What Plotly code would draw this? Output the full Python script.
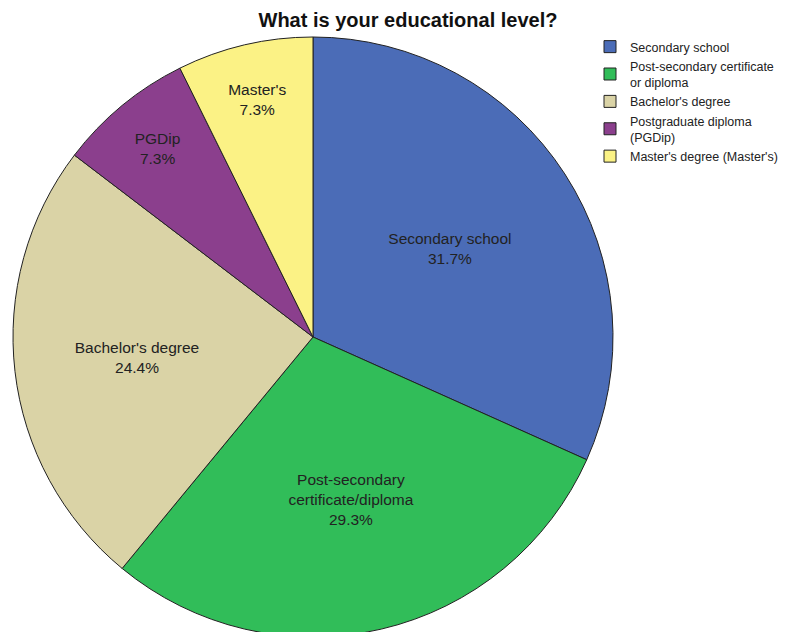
import plotly.graph_objects as go

categories = ["Secondary school", "Post-secondary certificate<br>or diploma", "Bachelor's degree",
              "Postgraduate diploma<br>(PGDip)", "Master's degree (Master's)"]
slice_names = ["Secondary school", "Post-secondary<br>certificate/diploma", "Bachelor's degree",
               "PGDip", "Master's"]
counts = [13, 12, 10, 3, 3]
colors = ["#4B6CB7", "#31BD59", "#DAD3A6", "#8B3F8D", "#FBF285"]

total = sum(counts)
texts = [f"{n}<br>{c / total * 100:.1f}%" for n, c in zip(slice_names, counts)]

W, H = 798, 632
OFF = 8  # page body margin
FW, FH = W - OFF, H


def px_x(x):
    return (x - OFF) / FW


def px_y(y):
    return 1 - (y - OFF) / FH


fig = go.Figure(go.Pie(
    labels=categories,
    values=counts,
    text=texts,
    textinfo="text",
    textposition="inside",
    insidetextorientation="horizontal",
    sort=False,
    direction="clockwise",
    rotation=0,
    marker=dict(colors=colors, line=dict(color="#222222", width=1)),
    textfont=dict(family="Liberation Sans, Arial", size=15.5, color="#222222"),
    domain=dict(x=[px_x(13), px_x(613)], y=[px_y(637), px_y(37)]),
    hoverinfo="label+percent",
))

fig.update_layout(
    width=FW, height=FH,
    margin=dict(l=0, r=0, t=0, b=0),
    paper_bgcolor="white",
    font=dict(family="Liberation Sans, Arial", color="#222222"),
    title=dict(text="<b>What is your educational level?</b>", x=px_x(408), xanchor="center",
               y=px_y(20), yanchor="middle", font=dict(size=20, color="#111111")),
    legend=dict(x=px_x(590), y=px_y(32), xanchor="left", yanchor="top",
                font=dict(size=12.5, color="#222222"), tracegroupgap=0,
                itemwidth=30, bgcolor="rgba(0,0,0,0)"),
    showlegend=True,
)

fig.write_html("out.html")
